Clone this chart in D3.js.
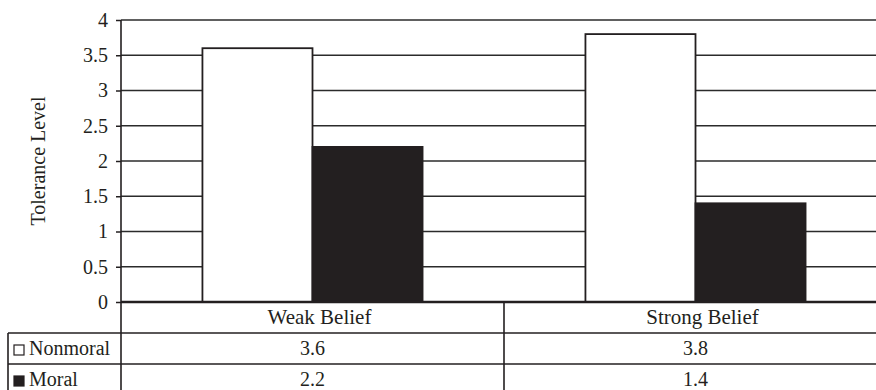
<!DOCTYPE html>
<html>
<head>
<meta charset="utf-8">
<script src="https://cdn.jsdelivr.net/npm/d3@7"></script>
<style>
  body { margin: 0; background: #fff; }
  svg text { font-family: "Times New Roman", "Liberation Serif", Tinos, "DejaVu Serif", serif !important; fill: #231f20; }
</style>
</head>
<body>
<svg id="chart" width="876" height="390"></svg>
<script>
const categories = ["Weak Belief", "Strong Belief"];
const seriesNames = ["Nonmoral", "Moral"];
const nonmoral = [3.6, 3.8];
const moral = [2.2, 1.4];
const yTicks = [0, 0.5, 1, 1.5, 2, 2.5, 3, 3.5, 4];
const yLabel = "Tolerance Level";

const ink = "#231f20";
const seriesFill = {Nonmoral: "#fff", Moral: ink};
const seriesValues = {Nonmoral: nonmoral, Moral: moral};

const svg = d3.select("#chart");
const plotLeft = 121, plotRight = 887, plotTop = 20, base = 302;
const rowH = 31;

const y = d3.scaleLinear().domain([0, 4]).range([base, plotTop]);
const x = d3.scaleBand().domain(categories).range([plotLeft, plotRight]).padding(0);
const xSub = d3.scaleBand().domain(seriesNames)
  .range([0, x.bandwidth()]).paddingInner(0).paddingOuter(0.74);

// gridlines
svg.append("g")
  .selectAll("line")
  .data(yTicks.filter(d => d > 0))
  .enter().append("line")
    .attr("x1", plotLeft).attr("x2", 876)
    .attr("y1", d => y(d)).attr("y2", d => y(d))
    .attr("stroke", "#2b2b2b").attr("stroke-width", 1.6);

// y axis
const yAxis = svg.append("g")
  .attr("transform", "translate(" + plotLeft + ",0)")
  .call(d3.axisLeft(y).tickValues(yTicks).tickSize(5).tickPadding(8)
    .tickFormat(d3.format("")));
yAxis.attr("font-family", null).attr("font-size", null);
yAxis.select(".domain").remove();
yAxis.selectAll(".tick line").attr("stroke", ink).attr("stroke-width", 1.5);
yAxis.selectAll(".tick text")
  .style("font-size", "20px")
  .attr("fill", ink);

svg.append("text")
  .attr("transform", "translate(45," + ((plotTop + base) / 2) + ") rotate(-90)")
  .attr("text-anchor", "middle")
  .style("font-size", "20px")
  .text(yLabel);

// bars
const groups = svg.selectAll(".grp")
  .data(categories)
  .enter().append("g")
    .attr("class", "grp")
    .attr("transform", d => "translate(" + x(d) + ",0)");

groups.selectAll("rect")
  .data((d, i) => seriesNames.map(s => ({s: s, v: seriesValues[s][i]})))
  .enter().append("rect")
    .attr("x", d => xSub(d.s))
    .attr("y", d => y(d.v))
    .attr("width", xSub.bandwidth())
    .attr("height", d => base - y(d.v))
    .attr("fill", d => seriesFill[d.s])
    .attr("stroke", ink).attr("stroke-width", 1.8);

// data table
const tbl = svg.append("g");
const lineAttrs = sel => sel.attr("stroke", ink).attr("stroke-width", 1.6);

tbl.append("line").attr("x1", plotLeft).attr("x2", 876).attr("y1", base).attr("y2", base)
  .attr("stroke", ink).attr("stroke-width", 2.5);
tbl.append("line").attr("x1", plotLeft).attr("x2", plotLeft).attr("y1", plotTop).attr("y2", 390).call(lineAttrs);
tbl.append("line").attr("x1", 8).attr("x2", 8).attr("y1", base + rowH).attr("y2", 390).call(lineAttrs);
categories.slice(1).forEach(c => {
  tbl.append("line").attr("x1", x(c)).attr("x2", x(c)).attr("y1", base).attr("y2", 390).call(lineAttrs);
});
[1, 2].forEach(r => {
  tbl.append("line").attr("x1", 8).attr("x2", 876)
    .attr("y1", base + r * rowH).attr("y2", base + r * rowH).call(lineAttrs);
});

categories.forEach(c => {
  tbl.append("text")
    .attr("x", x(c) + x.bandwidth() / 2 + 7)
    .attr("y", base + 22)
    .attr("text-anchor", "middle")
    .style("font-size", "21px")
    .text(c);
});

seriesNames.forEach((s, r) => {
  const ry = base + (r + 1) * rowH;
  tbl.append("rect")
    .attr("x", 14).attr("y", ry + 12).attr("width", 10).attr("height", 10)
    .attr("fill", seriesFill[s]).attr("stroke", ink).attr("stroke-width", 1.2);
  tbl.append("text")
    .attr("x", 29).attr("y", ry + 22)
    .style("font-size", "20px")
    .text(s);
  seriesValues[s].forEach((v, i) => {
    tbl.append("text")
      .attr("x", x(categories[i]) + x.bandwidth() / 2)
      .attr("y", ry + 22)
      .attr("text-anchor", "middle")
      .style("font-size", "20px")
      .text(v);
  });
});
</script>
</body>
</html>
